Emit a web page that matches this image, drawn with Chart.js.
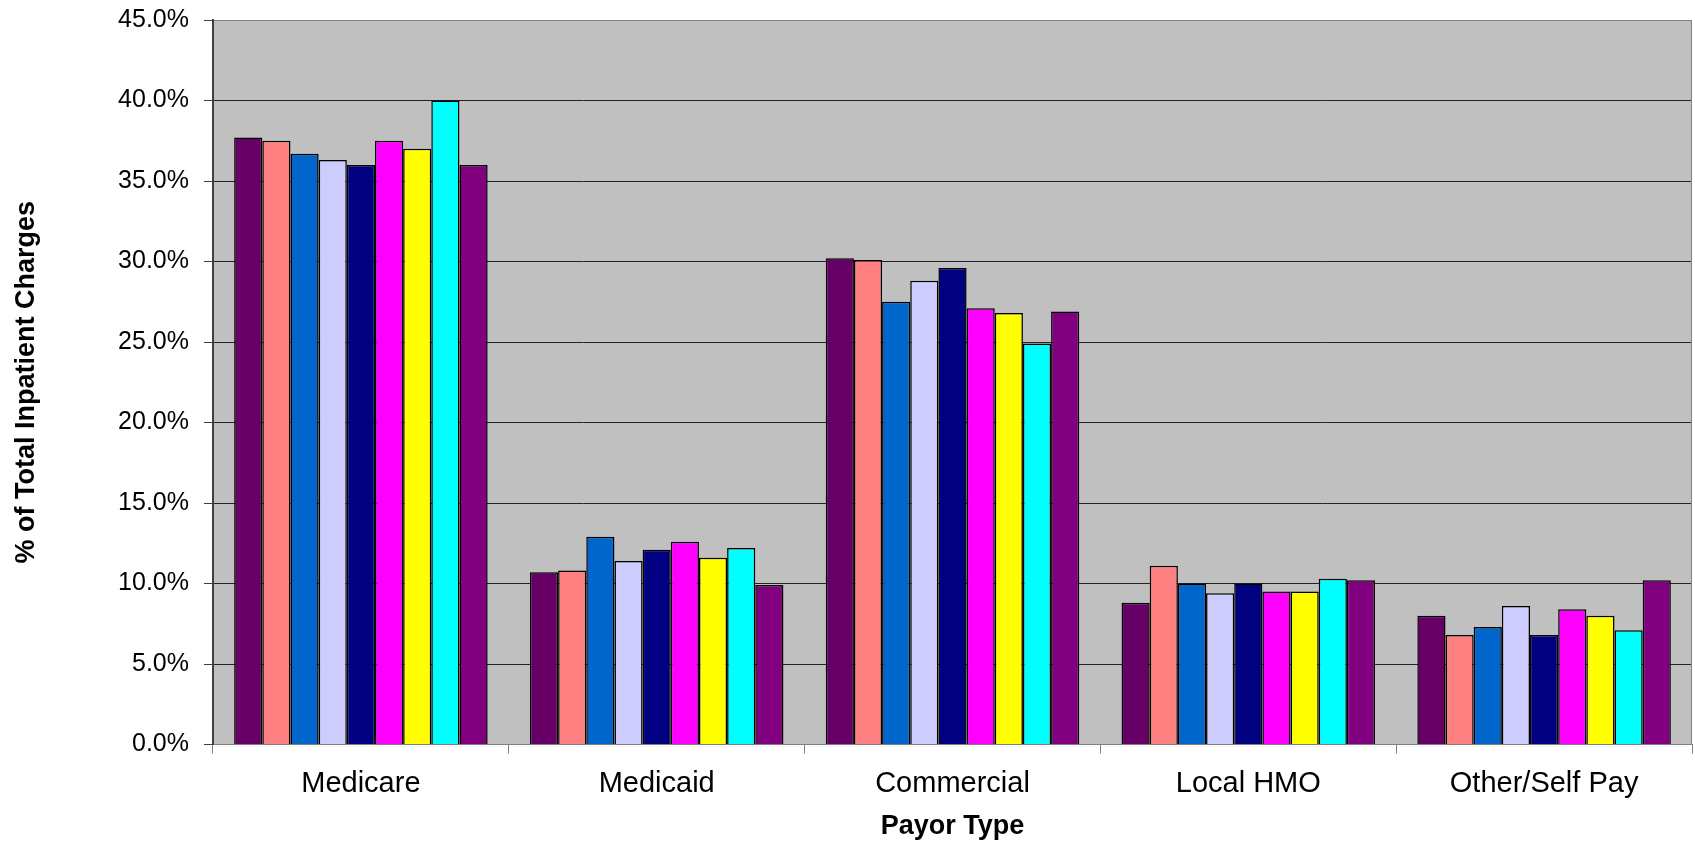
<!DOCTYPE html>
<html>
<head>
<meta charset="utf-8">
<script src="https://cdn.jsdelivr.net/npm/chart.js@4.4.1/dist/chart.umd.min.js"></script>
<style>
  html, body { margin: 0; padding: 0; background: #ffffff; }
  #wrap { width: 1695px; height: 843px; }
</style>
</head>
<body>
<div id="wrap"><canvas id="c" width="1695" height="843"></canvas></div>
<script>
const categories = ["Medicare", "Medicaid", "Commercial", "Local HMO", "Other/Self Pay"];

const series1 = [37.7, 10.7, 30.2, 8.8, 8.0];
const series2 = [37.5, 10.8, 30.1, 11.1, 6.8];
const series3 = [36.7, 12.9, 27.5, 10.0, 7.3];
const series4 = [36.3, 11.4, 28.8, 9.4, 8.6];
const series5 = [36.0, 12.1, 29.6, 10.0, 6.8];
const series6 = [37.5, 12.6, 27.1, 9.5, 8.4];
const series7 = [37.0, 11.6, 26.8, 9.5, 8.0];
const series8 = [40.0, 12.2, 24.9, 10.3, 7.1];
const series9 = [36.0, 9.9, 26.9, 10.2, 10.2];

const seriesNames = ["Series 1", "Series 2", "Series 3", "Series 4", "Series 5",
                     "Series 6", "Series 7", "Series 8", "Series 9"];
const seriesColors = ["#660066", "#FF8080", "#0066CC", "#CCCCFF", "#000080",
                      "#FF00FF", "#FFFF00", "#00FFFF", "#800080"];

const yTitle = "% of Total Inpatient Charges";
const xTitle = "Payor Type";

const allSeries = [series1, series2, series3, series4, series5, series6, series7, series8, series9];

const FONT = "'Liberation Sans', Arial, sans-serif";

const plotBg = {
  id: 'plotBg',
  beforeDraw(chart) {
    const { ctx, chartArea: a } = chart;
    ctx.save();
    ctx.fillStyle = '#C0C0C0';
    ctx.fillRect(a.left, a.top, a.right - a.left, a.bottom - a.top);
    ctx.restore();
  },
  afterDraw(chart) {
    const { ctx, chartArea: a } = chart;
    ctx.save();
    ctx.strokeStyle = '#808080';
    ctx.lineWidth = 1;
    ctx.beginPath();
    ctx.moveTo(a.right - 0.5, a.top);
    ctx.lineTo(a.right - 0.5, a.bottom);
    ctx.stroke();
    ctx.restore();
  }
};

new Chart(document.getElementById('c'), {
  type: 'bar',
  data: {
    labels: categories,
    datasets: allSeries.map((s, i) => ({
      label: seriesNames[i],
      data: s,
      backgroundColor: seriesColors[i],
      borderColor: '#000000',
      borderWidth: 1.5,
      categoryPercentage: 0.857,
      barPercentage: 1.0
    }))
  },
  options: {
    responsive: false,
    animation: false,
    layout: { padding: { top: 20, right: 3, bottom: 0, left: 0 } },
    plugins: {
      legend: { display: false },
      tooltip: { enabled: false }
    },
    scales: {
      x: {
        grid: {
          display: true,
          drawOnChartArea: false,
          drawTicks: true,
          tickLength: 9,
          tickColor: '#808080',
          offset: true
        },
        border: { display: true, color: '#808080', width: 1 },
        ticks: {
          color: '#000000',
          padding: 13,
          font: { family: FONT, size: 29 },
          maxRotation: 0
        },
        title: {
          display: true,
          text: xTitle,
          color: '#000000',
          font: { family: FONT, size: 27, weight: 'bold' },
          padding: { top: 0, bottom: 0 }
        },
        afterFit(scale) {
          scale.height = 98.5;
          scale.paddingLeft = 0;
          scale.paddingRight = 0;
        }
      },
      y: {
        min: 0,
        max: 45,
        ticks: {
          stepSize: 5,
          color: '#000000',
          padding: 15,
          font: { family: FONT, size: 25 },
          callback: (v) => Number(v).toFixed(1) + '%'
        },
        grid: {
          color: (c) => (c.tick && c.tick.value === 45) ? '#808080' : '#222222',
          lineWidth: 1,
          drawTicks: true,
          tickLength: 9,
          tickColor: '#404040'
        },
        border: { display: true, color: '#404040', width: 2 },
        title: {
          display: true,
          text: yTitle,
          color: '#000000',
          font: { family: FONT, size: 27, weight: 'bold' },
          padding: { top: 10, bottom: 0 }
        },
        afterFit(scale) {
          scale.width = 213;
          scale.paddingTop = 0;
          scale.paddingBottom = 0;
        }
      }
    }
  },
  plugins: [plotBg]
});
</script>
</body>
</html>
